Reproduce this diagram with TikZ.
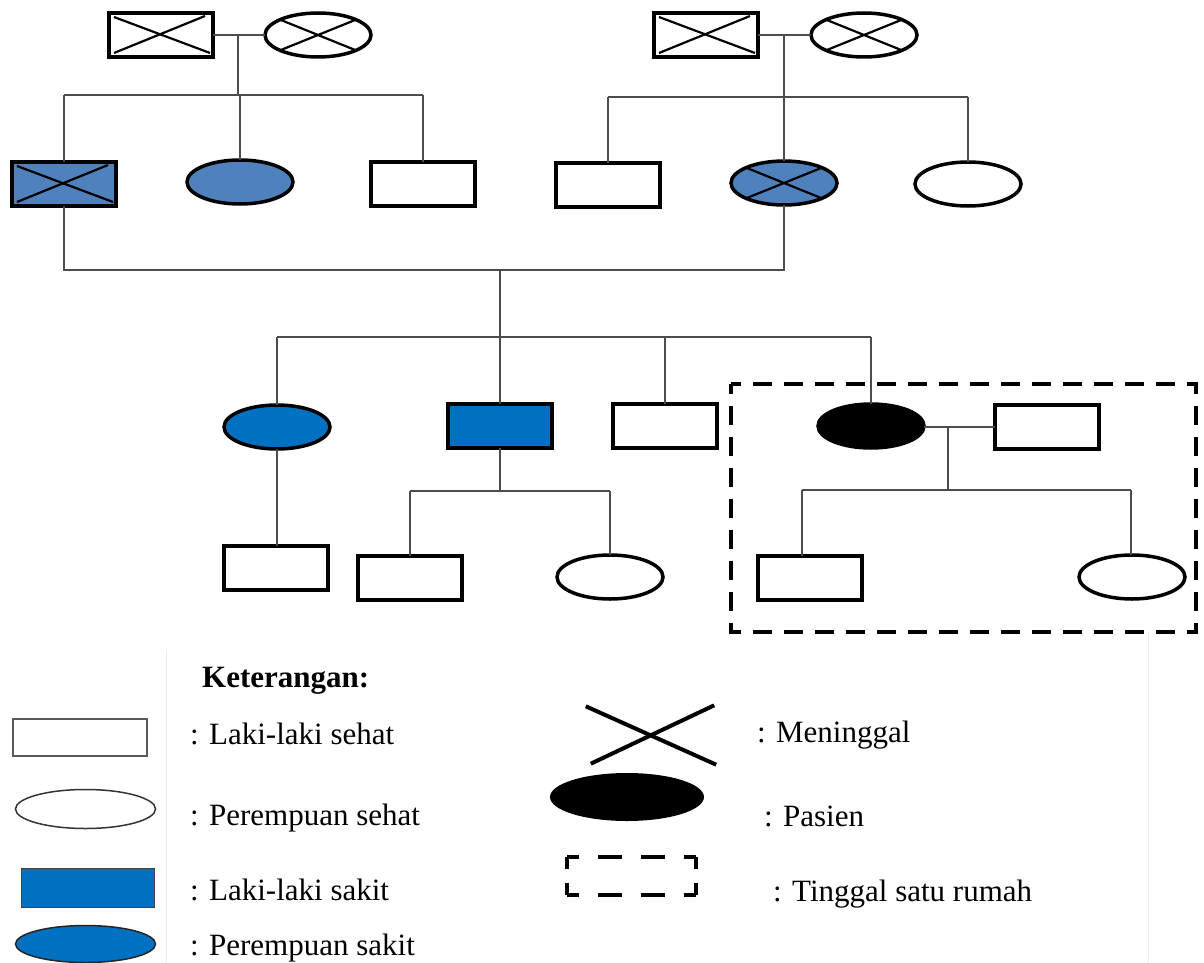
\documentclass[tikz,border=0pt]{standalone}
\usepackage{fontspec}
\setmainfont{Liberation Serif}
\usetikzlibrary{shapes.geometric}
\definecolor{blueA}{HTML}{4F81BD}
\definecolor{blueB}{HTML}{0070C0}
\tikzset{
  male/.style={rectangle, draw=black, line width=3.5pt, minimum width=104pt, minimum height=44pt, inner sep=0pt, outer sep=0pt, fill=white},
  female/.style={ellipse, draw=black, line width=3.5pt, minimum width=106pt, minimum height=44pt, inner sep=0pt, outer sep=0pt, fill=white},
  link/.style={line width=1.5pt, draw=black!70},
  deadline/.style={line width=2.2pt, draw=black},
  house/.style={line width=4pt, dash pattern=on 19pt off 12pt, dash phase=9.5pt},
  lbl/.style={font=\rmfamily\fontsize{31}{36}\selectfont, anchor=base west, inner sep=0pt},
  faint/.style={line width=1pt, draw=black!7},
}
\begin{document}
\begin{tikzpicture}[x=1pt,y=-1pt]
\useasboundingbox (0,0) rectangle (1204,963);

% faint table borders
\coordinate (fa1) at (166,650); \coordinate (fa2) at (166,963);
\coordinate (fb1) at (1148,633); \coordinate (fb2) at (1148,963);
\draw[faint] (fa1) -- (fa2);
\draw[faint] (fb1) -- (fb2);

% ---------- generation I ----------
\node[male]   (gf1) at (161,35) {};
\node[female] (gm1) at (318,35) {};
\node[male]   (gf2) at (706,35) {};
\node[female] (gm2) at (864,35) {};

% ---------- generation II ----------
\node[male, fill=blueA]   (a) at (64,184) {};
\node[female, fill=blueA] (b) at (240,182) {};
\node[male]               (c) at (423,184) {};
\node[male]               (d) at (608,185) {};
\node[female, fill=blueA] (e) at (784,183) {};
\node[female]             (f) at (968,184) {};

% ---------- generation III ----------
\node[female, fill=blueB] (g) at (277,427) {};
\node[male, fill=blueB]   (h) at (500,426) {};
\node[male]               (i) at (665,426) {};
\node[female, fill=black] (j) at (871,426) {};
\node[male]               (k) at (1047,427) {};

% ---------- generation IV ----------
\node[male]   (l) at (276,568) {};
\node[male]   (m) at (410,578) {};
\node[female] (n) at (610,577) {};
\node[male]   (o) at (810,578) {};
\node[female] (p) at (1132,577) {};

% crosses (deceased)
\foreach \nd in {gf1,gf2,a}{
  \draw[deadline] ([shift={(5pt,-4pt)}]\nd.north west) -- ([shift={(-3pt,4pt)}]\nd.south east);
  \draw[deadline] ([shift={(5pt,4pt)}]\nd.south west) -- ([shift={(-8pt,-3pt)}]\nd.north east);
}
\foreach \nd in {gm1,gm2,e}{
  \draw[deadline] (\nd.158) -- (\nd.-22);
  \draw[deadline] (\nd.202) -- (\nd.22);
}

% ---------- connectors ----------
\coordinate (m1) at (238,35);
\coordinate (s1) at (238,95);
\coordinate (s1l) at (64,95);
\coordinate (s1r) at (423,95);
\coordinate (s1b) at (240,95);
\draw[link] (gf1) -- (gm1);
\draw[link] (m1) -- (s1);
\draw[link] (s1l) -- (s1r);
\draw[link] (s1l) -- (a);
\draw[link] (s1b) -- (b);
\draw[link] (s1r) -- (c);

\coordinate (m2) at (784,35);
\coordinate (s2) at (784,97);
\coordinate (s2l) at (608,97);
\coordinate (s2r) at (968,97);
\draw[link] (gf2) -- (gm2);
\draw[link] (m2) -- (s2);
\draw[link] (s2l) -- (s2r);
\draw[link] (s2l) -- (d);
\draw[link] (s2) -- (e);
\draw[link] (s2r) -- (f);

\coordinate (ma) at (64,270);
\coordinate (me) at (784,270);
\coordinate (mm) at (500,270);
\coordinate (sib) at (500,337);
\coordinate (sibl) at (277,337);
\coordinate (sibi) at (665,337);
\coordinate (sibr) at (871,337);
\draw[link] (a) -- (ma) -- (me) -- (e);
\draw[link] (mm) -- (sib);
\draw[link] (sibl) -- (sibr);
\draw[link] (sibl) -- (g);
\draw[link] (sib) -- (h);
\draw[link] (sibi) -- (i);
\draw[link] (sibr) -- (j);

\draw[link] (g) -- (g |- l.north);

\coordinate (hs) at (500,491);
\coordinate (hsl) at (410,491);
\coordinate (hsr) at (610,491);
\draw[link] (h) -- (hs);
\draw[link] (hsl) -- (hsr);
\draw[link] (hsl) -- (m);
\draw[link] (hsr) -- (n);

\coordinate (jk) at (948,427);
\coordinate (jks) at (948,490);
\coordinate (jksl) at (802,490);
\coordinate (jksr) at (1131,490);
\draw[link] (j.east |- jk) -- (k.west |- jk);
\draw[link] (jk) -- (jks);
\draw[link] (jksl) -- (jksr);
\draw[link] (jksl) -- (jksl |- o.north);
\draw[link] (jksr) -- (jksr |- p.north);

% living in one house
\draw[house] (731,384) rectangle (1196,632);

% ---------- legend ----------
\node[font=\rmfamily\fontsize{31}{36}\selectfont\bfseries, anchor=base west, inner sep=0pt] (ket) at (202,687) {Keterangan:};

\node[rectangle, draw=black!65, line width=2pt, minimum width=134pt, minimum height=37pt, inner sep=0pt] (lg1) at (80,737.5) {};
\node[ellipse, draw=black!80, line width=1.5pt, minimum width=140pt, minimum height=39pt, inner sep=0pt] (lg2) at (85.5,809) {};
\node[rectangle, draw=black!75, fill=blueB, line width=1.5pt, minimum width=133pt, minimum height=39pt, inner sep=0pt] (lg3) at (88,888) {};
\node[ellipse, draw=black!85, fill=blueB, line width=1.5pt, minimum width=140pt, minimum height=37pt, inner sep=0pt] (lg4) at (85.5,944) {};

\node[lbl] (t1) at (190,744) {: Laki-laki sehat};
\node[lbl] (t2) at (190,825) {: Perempuan sehat};
\node[lbl] (t3) at (190,900) {: Laki-laki sakit};
\node[lbl] (t4) at (190,955) {: Perempuan sakit};

\node[inner sep=0pt, minimum width=128pt, minimum height=55pt] (lgx) at (651,735) {};
\draw[line width=4pt] ([shift={(-1pt,1pt)}]lgx.north west) -- ([shift={(1pt,-2pt)}]lgx.south east);
\draw[line width=4pt] ([shift={(4pt,-1pt)}]lgx.south west) -- ([shift={(-1pt,2pt)}]lgx.north east);
\node[ellipse, fill=black, minimum width=154pt, minimum height=48pt, inner sep=0pt] (lg5) at (627,797) {};
\coordinate (hb1) at (567,857); \coordinate (hb2) at (696,857);
\coordinate (hb3) at (696,895); \coordinate (hb4) at (567,895);
\draw[line width=3.5pt, dash pattern=on 24pt off 19pt, dash phase=12pt] (hb1) -- (hb2);
\draw[line width=3.5pt, dash pattern=on 24pt off 19pt, dash phase=12pt] (hb4) -- (hb3);
\draw[line width=3.5pt, dash pattern=on 12pt off 14pt] (hb1) -- (hb4);
\draw[line width=3.5pt, dash pattern=on 12pt off 14pt] (hb2) -- (hb3);

\node[lbl] (t5) at (757,742) {: Meninggal};
\node[lbl] (t6) at (764,826) {: Pasien};
\node[lbl] (t7) at (773,901) {: Tinggal satu rumah};
\end{tikzpicture}
\end{document}
